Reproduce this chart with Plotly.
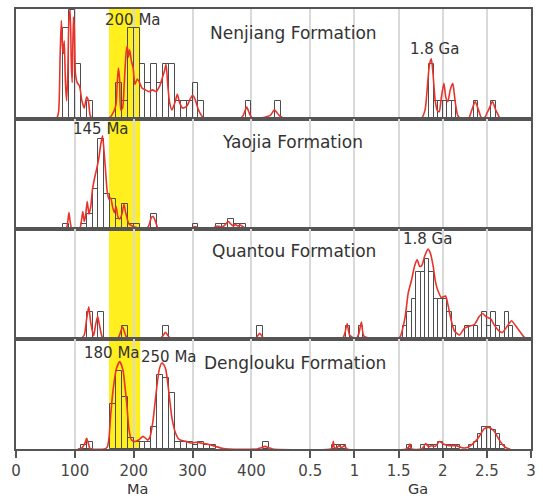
import plotly.graph_objects as go
from plotly.subplots import make_subplots

# ---------------- axis (broken scale: Ma up to 500, then Ga) ----------------
BREAK_MA = 500
GA_FACTOR = 0.15
TICK_AGES = [0, 100, 200, 300, 400, 500, 1000, 1500, 2000, 2500, 3000]
TICK_LABELS = ["0", "100", "200", "300", "400", "0.5", "1", "1.5", "2", "2.5", "3"]
MA_BIN = 10
GA_BIN = 50
HIGHLIGHT = [158, 211]

PANEL_NAMES = ["Nenjiang Formation", "Yaojia Formation", "Quantou Formation", "Denglouku Formation"]
PANEL_YMAX = [6.04, 22.1, 8.2, 29.6]

# ---------------- Nenjiang ----------------
NJ_MA_BINS = [80, 90, 100, 120, 170, 180, 190, 200, 210, 220, 230, 240, 250, 260, 270, 280, 290, 300, 310, 390, 440]
NJ_MA_COUNTS = [5, 6, 3, 1, 2, 1, 5, 5, 3, 2, 3, 2, 3, 3, 1, 1, 1, 2, 1, 1, 1]
NJ_GA_BINS = [1850, 1900, 1950, 2000, 2050, 2100, 2350, 2550]
NJ_GA_COUNTS = [3, 1, 1, 1, 1, 1, 1, 1]
NJ_KDE_AGE = [57, 68, 72, 75, 77, 79, 80.5, 82, 84, 86, 88, 90, 92, 94, 95.5, 97.5, 99, 101, 104, 108, 112, 116,
              120, 123, 126, 130, 150, 160, 166, 170, 172, 174, 176, 178, 181, 184, 187, 189, 191, 193, 196, 199,
              202, 206, 210, 214, 220, 226, 232, 238, 244, 248, 252, 255, 258, 261, 265, 270, 274, 278, 283, 290,
              296, 300, 304, 310, 316, 322, 380, 386, 392, 398, 404, 432, 439, 447, 456, None,
              1660, 1760, 1800, 1830, 1850, 1871, 1890, 1915, 1940, 1960, 1985, 2013, 2035, 2058, 2085, 2114,
              2140, 2170, 2210, 2290, 2330, 2368, 2405, 2440, 2470, 2520, 2563, 2600, 2650, 2700, 2860]
NJ_KDE_H = [0, 0, 0.3, 3.5, 5.4, 4.0, 3.6, 4.3, 2.0, 1.0, 2.5, 5.5, 6.0, 3.0, 2.0, 5.6, 5.0, 2.5, 2.0, 1.8, 1.0, 0.6,
            1.2, 1.0, 0.2, 0, 0, 0.1, 0.4, 0.8, 2.0, 2.8, 2.2, 0.5, 0.6, 2.0, 3.6, 4.0, 3.4, 3.8, 3.2, 2.8,
            1.9, 2.2, 2.0, 1.7, 1.6, 1.5, 1.6, 1.5, 1.8, 2.2, 2.6, 3.0, 1.8, 0.9, 0.5, 0.9, 1.35, 0.9, 0.6, 0.7,
            1.1, 1.3, 1.1, 0.5, 0.15, 0, 0, 0.2, 0.65, 0.2, 0, 0.2, 0.5, 0.2, 0, None,
            0, 0.05, 0.5, 2.0, 3.0, 3.3, 2.5, 1.0, 0.45, 0.4, 1.2, 1.96, 1.2, 0.96, 1.6, 1.96,
            1.0, 0.2, 0, 0, 0.5, 0.96, 0.5, 0.05, 0.05, 0.5, 0.96, 0.5, 0.05, 0, 0]

# ---------------- Yaojia ----------------
YJ_MA_BINS = [80, 110, 120, 130, 140, 150, 160, 170, 180, 190, 200, 230, 300, 340, 350, 360, 370, 380]
YJ_MA_COUNTS = [1, 1, 3, 8, 18, 7, 6, 2, 5, 1, 1, 3, 1, 1, 1, 2, 1, 1]
YJ_GA_BINS = []
YJ_GA_COUNTS = []
YJ_KDE_AGE = [60, 85, 88, 90, 92, 95, 108, 111, 113.5, 116, 118, 121, 124, 127, 130, 134, 137, 141, 144, 147, 150,
              152, 155, 158, 161, 164, 167, 170, 173, 176, 180, 183.5, 186, 189, 192, 196, 200, 205, 210, 222, 226,
              230, 233, 237, 241, 245, 295, 300, 304, 308, 312, 332, 338, 343, 348, 353, 358, 361, 365, 369, 373,
              377, 381, 385, 391]
YJ_KDE_H = [0, 0, 1.5, 3.3, 1.5, 0, 0, 1.5, 3.5, 1.5, 2.5, 5.5, 3.0, 4.5, 8.0, 10.5, 12.0, 14.5, 17.0, 18.7, 15.0,
            12.0, 7.5, 6.0, 6.2, 4.5, 3.3, 4.5, 2.5, 2.0, 3.0, 5.0, 3.5, 2.0, 1.0, 0.7, 0.5, 0.3, 0, 0, 0.8,
            2.3, 2.5, 1.5, 0.2, 0, 0, 0.3, 0.5, 0.3, 0, 0, 0.4, 0.6, 0.4, 0.6, 1.2, 1.5, 1.0, 0.6, 0.9,
            0.6, 0.8, 0.5, 0]

# ---------------- Quantou ----------------
QT_MA_BINS = [120, 140, 180, 250, 410]
QT_MA_COUNTS = [2, 2, 1, 1, 1]
QT_GA_BINS = [900, 1050, 1550, 1600, 1650, 1700, 1750, 1800, 1850, 1900, 1950, 2000, 2050, 2100, 2250, 2300,
              2350, 2450, 2500, 2550, 2600, 2700, 2750]
QT_GA_COUNTS = [1, 1, 1, 2, 3, 5, 5, 6, 5, 3, 3, 3, 2, 1, 1, 1, 1, 2, 1, 2, 1, 2, 1]
QT_KDE_AGE = [110, 116, 120, 123.6, 127, 131.9, 135, 138.7, 142, 146, 150, 172, 176, 181, 186, 190, 244, 249, 254,
              259, 264, 404, 409, 414, 419, 424, 860, 890, 918, 945, 1020, 1050, 1079, 1110, 1460, 1516, 1572,
              1610, 1647, 1684, 1711, 1740, 1765, 1797, 1834, 1860, 1890, 1920, 1946, 1983, 2032, 2058, 2096,
              2133, 2189, 2245, 2301, 2357, 2413, 2451, 2488, 2544, 2581, 2637, 2675, 2731, 2779, 2824, 2880,
              2936, 2975]
QT_KDE_H = [0, 0.3, 1.5, 2.4, 1.2, 0.24, 1.0, 1.7, 1.0, 0.2, 0, 0, 0.3, 0.9, 0.3, 0, 0, 0.2, 0.5, 0.2,
            0, 0, 0.15, 0.43, 0.15, 0, 0, 0.4, 1.14, 0.3, 0, 0.4, 1.26, 0.2, 0, 0.15, 1.55,
            3.45, 4.4, 5.5, 5.9, 5.4, 5.5, 6.2, 6.7, 6.4, 5.5, 4.2, 3.6, 3.1, 3.2, 2.6, 1.4,
            0.6, 0.3, 0.8, 0.95, 1.07, 1.67, 1.9, 1.67, 1.5, 1.07, 0.6, 0.48, 0.95, 1.36, 1.0, 0.5,
            0.05, 0]

# ---------------- Denglouku ----------------
DL_MA_BINS = [110, 120, 160, 170, 180, 190, 200, 210, 220, 230, 240, 250, 260, 270, 280, 290, 300, 310, 320,
              330, 420]
DL_MA_COUNTS = [1, 2, 12, 21, 14, 3, 2, 2, 2, 6, 20, 19, 15, 2, 2, 2, 1, 2, 1, 1, 2]
DL_GA_BINS = [750, 800, 850, 1600, 1750, 1800, 1850, 1900, 1950, 2000, 2050, 2100, 2150, 2300, 2350, 2400,
              2450, 2500, 2550, 2600, 2650]
DL_GA_COUNTS = [1, 1, 1, 1, 1, 1, 1, 1, 2, 1, 1, 1, 1, 1, 2, 4, 6, 6, 5, 4, 1]
DL_KDE_AGE = [105, 112, 117, 120, 123, 126, 150, 155, 158, 160.7, 165, 170.8, 176.4, 182, 185, 188, 192, 196,
              201.6, 206, 210, 215.7, 220, 224, 228, 232.6, 238, 243.8, 248.3, 254, 259.6, 265, 271, 277.6,
              288.8, 297, 305.6, 317, 328, 339, 350, 362, 410, 416, 423, 430, 436, 735, 748, 761, 772, 800,
              825, 855, 888, 915, 1590, 1615, 1628, 1645, 1760, 1790, 1808, 1840, 1870, 1915, 1964, 2020, 2076,
              2150, 2225, 2280, 2337, 2393, 2430, 2468, 2522, 2579, 2635, 2680, 2729, 2766]
DL_KDE_H = [0, 0.3, 1.5, 2.9, 1.5, 0.1, 0, 0.5, 3.0, 8.75, 15.9, 21.7, 23.5, 21.0, 17.0, 12.5, 5.2, 2.5,
            2.0, 2.2, 2.6, 3.4, 2.9, 2.4, 3.4, 7.4, 15.0, 21.7, 23.2, 21.7, 15.4, 8.3, 4.3, 2.5,
            2.05, 1.6, 1.8, 1.5, 1.2, 0.7, 0.2, 0, 0, 0.3, 0.7, 0.3, 0, 0, 0.4, 2.05, 0.4, 0.3,
            0.9, 0.4, 0.9, 0, 0, 0.6, 1.3, 0, 0, 0.8, 1.5, 0.6, 0.9, 0.7, 2.0, 1.2, 0.9,
            0.9, 0.3, 0.4, 1.3, 2.7, 4.0, 5.4, 5.8, 4.9, 2.7, 1.1, 0.2, 0]

PANELS = [
    (NJ_MA_BINS, NJ_MA_COUNTS, NJ_GA_BINS, NJ_GA_COUNTS, NJ_KDE_AGE, NJ_KDE_H),
    (YJ_MA_BINS, YJ_MA_COUNTS, YJ_GA_BINS, YJ_GA_COUNTS, YJ_KDE_AGE, YJ_KDE_H),
    (QT_MA_BINS, QT_MA_COUNTS, QT_GA_BINS, QT_GA_COUNTS, QT_KDE_AGE, QT_KDE_H),
    (DL_MA_BINS, DL_MA_COUNTS, DL_GA_BINS, DL_GA_COUNTS, DL_KDE_AGE, DL_KDE_H),
]


def u(age):
    """Broken-axis transform: linear in Ma up to 500 Ma, compressed beyond."""
    if age is None:
        return None
    return age if age <= BREAK_MA else BREAK_MA + (age - BREAK_MA) * GA_FACTOR


FONT = "DejaVu Sans, Verdana, sans-serif"
RED = "#E8332B"
FRAME = "#555555"
BAR_LINE = "#4d4d4d"

fig = make_subplots(rows=4, cols=1, shared_xaxes=True, vertical_spacing=0)

for i, (mb, mc, gb, gc, ka, kh) in enumerate(PANELS):
    row = i + 1
    xs, ws, ys = [], [], []
    for bins, counts, w in ((mb, mc, MA_BIN), (gb, gc, GA_BIN)):
        for b, c in zip(bins, counts):
            l, r = u(b), u(b + w)
            xs.append((l + r) / 2)
            ws.append(r - l)
            ys.append(c)
    fig.add_trace(go.Bar(x=xs, y=ys, width=ws, marker=dict(color="rgba(0,0,0,0)",
                                                           line=dict(color=BAR_LINE, width=1)),
                         showlegend=False, hoverinfo="skip"), row=row, col=1)
    fig.add_trace(go.Scatter(x=[u(a) for a in ka], y=kh, mode="lines",
                             line=dict(color=RED, width=1.6, shape="spline", smoothing=0.6),
                             connectgaps=False, showlegend=False, hoverinfo="skip"), row=row, col=1)

tickvals = [u(a) for a in TICK_AGES]
for r in range(1, 5):
    fig.update_xaxes(row=r, col=1, range=[0, u(3000)], tickvals=tickvals, ticktext=TICK_LABELS,
                     showgrid=True, gridcolor="#d9d9d9", gridwidth=1.5, zeroline=False,
                     showline=True, linecolor=FRAME, linewidth=2, mirror=True,
                     showticklabels=(r == 4), ticks="outside" if r == 4 else "",
                     ticklen=7, tickwidth=1.5, tickcolor=FRAME,
                     tickfont=dict(family=FONT, size=15, color="#444"))
    fig.update_yaxes(row=r, col=1, range=[0, PANEL_YMAX[r - 1]], showgrid=False, zeroline=False,
                     showticklabels=False, ticks="", showline=True, linecolor=FRAME, linewidth=2,
                     mirror=True)

fig.add_shape(type="rect", xref="x", yref="paper", x0=u(HIGHLIGHT[0]), x1=u(HIGHLIGHT[1]), y0=0, y1=1,
              fillcolor="#FFEF1F", line=dict(width=0), layer="below")

W, H = 543, 498
ML, MR, MT, MB = 16, 7, 7, 49
PW, PH = W - ML - MR, H - MT - MB


def px(xp):
    return (xp - ML) / PW


def py(yp):
    return (H - MB - yp) / PH


LABELS = [
    ("Nenjiang Formation", 296.5, 31, 17),
    ("Yaojia Formation", 295.5, 141, 17),
    ("Quantou Formation", 296.5, 250, 17),
    ("Denglouku Formation", 297.5, 362.5, 17),
    ("200 Ma", 134, 18, 15),
    ("1.8 Ga", 439, 47.5, 15),
    ("145 Ma", 101.5, 128, 15),
    ("1.8 Ga", 431, 238, 15),
    ("180 Ma", 113, 353, 15),
    ("250 Ma", 170.5, 357, 15),
    ("Ma", 139, 489.5, 14.5),
    ("Ga", 422, 489.5, 14.5),
]
for text, x, y, s in LABELS:
    fig.add_annotation(text=text, x=px(x), y=py(y), xref="paper", yref="paper", showarrow=False,
                       xanchor="center", yanchor="middle",
                       font=dict(family=FONT, size=s, color="#333"))

fig.update_layout(width=W, height=H, margin=dict(l=ML, r=MR, t=MT, b=MB),
                  paper_bgcolor="white", plot_bgcolor="rgba(0,0,0,0)", bargap=0, barmode="overlay")

fig.write_html("out.html")
